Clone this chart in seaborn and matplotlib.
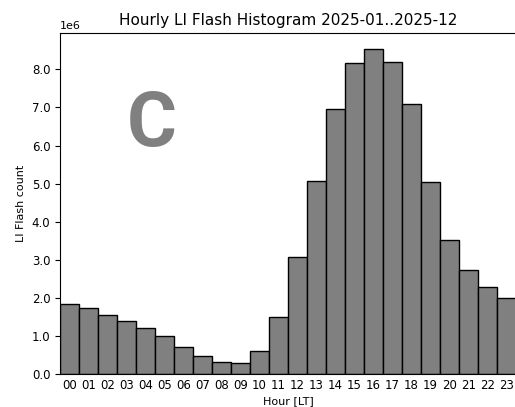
import numpy as np
import matplotlib
matplotlib.use('Agg')
import matplotlib.pyplot as plt
from matplotlib.ticker import ScalarFormatter, MultipleLocator
import seaborn as sns
import pandas as pd

# hourly flash counts (millions)
hours = list(range(24))
counts_m = [1.84, 1.73, 1.55, 1.40, 1.22, 1.00, 0.72, 0.48, 0.32, 0.30, 0.61, 1.50,
            3.08, 5.07, 6.97, 8.16, 8.53, 8.19, 7.09, 5.04, 3.52, 2.72, 2.28, 2.00]
hour_labels = [f'{h:02d}' for h in hours]

df = pd.DataFrame({'hour': hours, 'count': [c * 1e6 for c in counts_m]})

class OneDecimal(ScalarFormatter):
    def _set_format(self):
        self.format = '%.1f'

fig = plt.figure(figsize=(5.15, 4.07), dpi=100)
W, H = 515, 407
ax = fig.add_axes([60/W, (H-374)/H, 456/W, (374-33)/H])

sns.histplot(df, x='hour', weights='count', discrete=True, color='#808080',
             edgecolor='black', linewidth=1.0, alpha=1, ax=ax)

ax.set_xlim(-0.5, 23.5)
ax.set_ylim(0, df['count'].max() * 1.05)
ax.set_xticks(hours)
ax.set_xticklabels(hour_labels)
ax.yaxis.set_major_locator(MultipleLocator(1e6))
fmt = OneDecimal(useMathText=False)
fmt.set_powerlimits((0, 0))
ax.yaxis.set_major_formatter(fmt)
ax.tick_params(labelsize=8.5)
ax.tick_params(axis='x', length=0, pad=3.3)
ax.yaxis.get_offset_text().set_fontsize(8)
ax.set_xlabel('Hour [LT]', fontsize=8, labelpad=3)
ax.set_ylabel('LI Flash count', fontsize=8)
ax.set_title('Hourly LI Flash Histogram 2025-01..2025-12', fontsize=11)

# panel letter
fig.text(152/W, 1 - 146/H, 'C', family='Roboto', weight='bold', fontsize=55,
         color='#808080', ha='center', va='baseline')

fig.savefig('out.png', dpi=100)
